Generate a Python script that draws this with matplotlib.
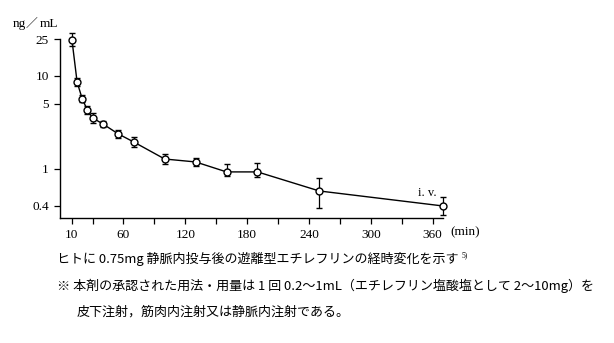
import numpy as np
import matplotlib
matplotlib.use('Agg')
import matplotlib.pyplot as plt
from matplotlib.ticker import FixedLocator, NullLocator

# time after i.v. dose (min) and free etilefrine plasma level (ng/mL)
minutes = [10, 15, 20, 25, 30, 40, 55, 70, 100, 130, 160, 190, 250, 370]
conc = [24.4, 8.6, 5.66, 4.3, 3.54, 3.05, 2.38, 1.95, 1.28, 1.19, 0.93, 0.93, 0.58, 0.40]
conc_hi = [29.0, 9.5, 6.2, 4.8, 3.99, 3.3, 2.6, 2.2, 1.45, 1.31, 1.13, 1.16, 0.80, 0.50]
conc_lo = [21.0, 7.8, 5.2, 3.9, 3.1, 2.8, 2.15, 1.72, 1.13, 1.08, 0.84, 0.82, 0.38, 0.32]

x_major = [10, 60, 120, 180, 240, 300, 360]
x_minor = [30, 90, 150, 210, 270, 330]
y_ticks = [0.4, 1, 5, 10, 25]
y_labels = ['0.4', '1', '5', '10', '25']

caption1 = 'ヒトに 0.75mg 静脈内投与後の遊離型エチレフリンの経時変化を示す'
caption2 = '※ 本剤の承認された用法・用量は 1 回 0.2～1mL（エチレフリン塩酸塩として 2～10mg）を'
caption3 = '皮下注射，筋肉内注射又は静脈内注射である。'

serif = ['Liberation Serif', 'DejaVu Serif']
jp = ['Noto Sans CJK JP', 'DejaVu Sans']

fig = plt.figure(figsize=(6.14, 3.43), dpi=100)
ax = fig.add_axes([60/614, 1 - 218/343, 383/614, 179/343])

conc = np.array(conc)
yerr = [conc - np.array(conc_lo), np.array(conc_hi) - conc]
ax.errorbar(minutes, conc, yerr=yerr, color='black', lw=1.0, elinewidth=0.9,
            capsize=2.3, capthick=0.9, marker='o', ms=5, mfc='white', mec='black',
            mew=1.0, clip_on=False, zorder=3)

ax.set_yscale('log')
ax.set_xlim(-1.6, 370)
ax.set_ylim(0.297, 25)
ax.yaxis.set_major_locator(FixedLocator(y_ticks))
ax.yaxis.set_minor_locator(NullLocator())
ax.set_yticklabels(y_labels)
ax.xaxis.set_major_locator(FixedLocator(x_major))
ax.xaxis.set_minor_locator(FixedLocator(x_minor))

for s in ['top', 'right']:
    ax.spines[s].set_visible(False)
for s in ['left', 'bottom']:
    ax.spines[s].set_linewidth(1.0)
ax.tick_params(which='both', direction='out', length=4, width=0.9, labelsize=9.5, pad=4)
for lab in ax.get_xticklabels() + ax.get_yticklabels():
    lab.set_family(serif)

fig.text(13/614, 1 - 24/343, 'ng', family=serif, fontsize=9.5, va='center')
fig.text(26/614, 1 - 23/343, '／', family=jp, fontsize=8.5, va='center')
fig.text(40/614, 1 - 24/343, 'mL', family=serif, fontsize=9.5, va='center')
fig.text(450/614, 1 - 232/343, '(min)', family=serif, fontsize=9.5, va='center')
ax.text(355, 0.55, 'i. v.', family=serif, fontsize=9, ha='center', va='center')

t1 = fig.text(57/614, 1 - 259/343, caption1, family=jp, fontsize=9.4, va='center')
fig.text(57/614, 1 - 286/343, caption2, family=jp, fontsize=9.4, va='center')
fig.text(77/614, 1 - 312/343, caption3, family=jp, fontsize=9.4, va='center')

fig.canvas.draw()
bb = t1.get_window_extent()
fig.text((bb.x1 + 3) / 614, (bb.y1 - 3) / 343, '5)', family=serif, fontsize=5.5, va='center')

fig.savefig('out.png', dpi=100)
